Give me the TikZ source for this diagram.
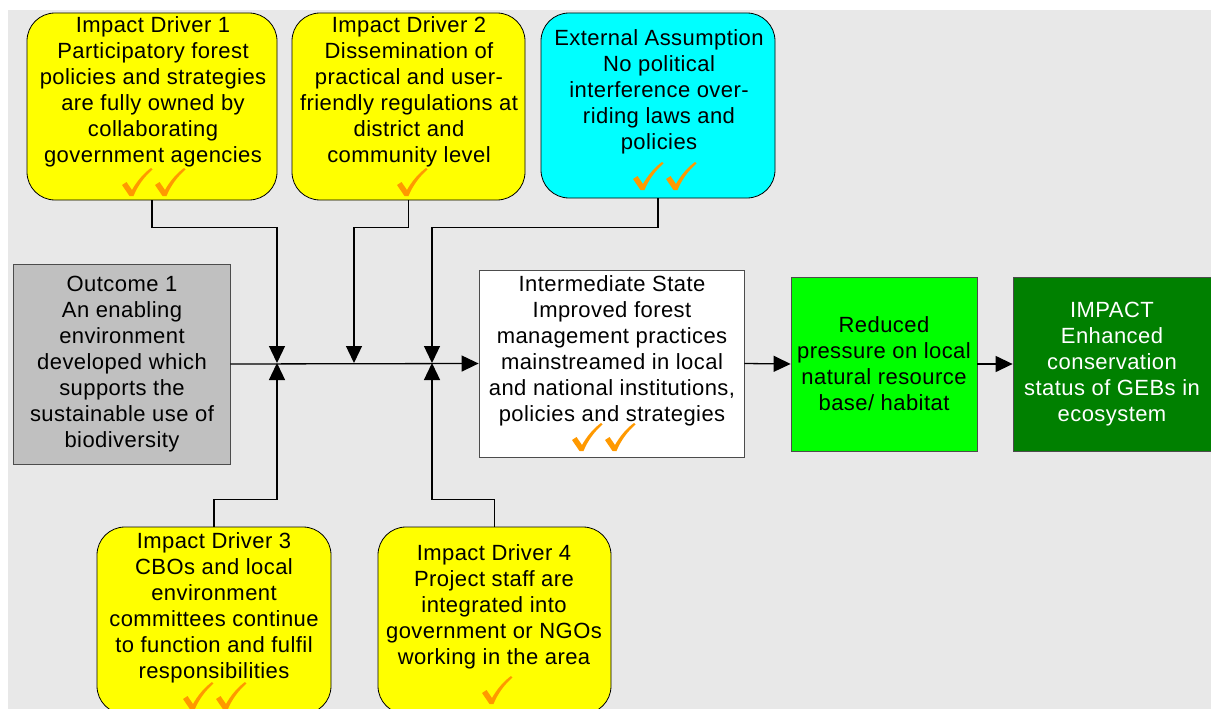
\documentclass[tikz,border=0pt]{standalone}
\usepackage{fontspec}
\setmainfont{Liberation Sans}[LetterSpace=2]
\usetikzlibrary{arrows.meta}

\definecolor{bggray}{HTML}{E8E8E8}
\definecolor{drvyellow}{HTML}{FFFF00}
\definecolor{asmcyan}{HTML}{00FFFF}
\definecolor{outgray}{HTML}{C0C0C0}
\definecolor{redgreen}{HTML}{00FF00}
\definecolor{impgreen}{HTML}{008000}
\definecolor{tickorange}{HTML}{FF9900}

\begin{document}
\begin{tikzpicture}[x=1pt,y=-1pt,
  roundbox/.style={draw=black, line width=0.8pt, rounded corners=28pt, inner sep=0pt},
  squarebox/.style={draw=black!70, line width=0.8pt, inner sep=0pt},
  txt/.style={align=center, font=\fontsize{22}{26}\selectfont, inner sep=0pt},
  conn/.style={line width=1.3pt},
  arr/.style={conn, -{Triangle[length=17pt,width=16pt]}},
  tickmark/.pic={
    \fill[tickorange] (-15,3) -- (-10.5,0) -- (-5,8)
      .. controls (0,-1) and (7,-9) .. (14,-14) -- (15.5,-12.5)
      .. controls (8,-6) and (1,3) .. (-3.5,14) -- (-7.5,14) -- cycle;
  }]
\useasboundingbox (0,0) rectangle (1211,709);
\clip (0,0) rectangle (1211,709);
\fill[bggray] (8,10) rectangle (1211,709);

% boxes
\node[roundbox, fill=drvyellow, minimum width=250pt, minimum height=187pt] (id1) at (152,106.5) {};
\node[roundbox, fill=drvyellow, minimum width=233pt, minimum height=187pt] (id2) at (408.5,106.5) {};
\node[roundbox, fill=asmcyan, minimum width=234pt, minimum height=185pt] (ext) at (658,105.5) {};
\node[squarebox, fill=outgray, minimum width=217pt, minimum height=200pt] (out) at (121.5,364) {};
\node[squarebox, fill=white, minimum width=265pt, minimum height=187pt] (inter) at (611.5,363.5) {};
\node[squarebox, fill=redgreen, minimum width=186pt, minimum height=174pt] (red) at (884,364) {};
\node[squarebox, fill=impgreen, minimum width=204pt, minimum height=174pt] (imp) at (1115,364) {};
\node[roundbox, fill=drvyellow, minimum width=234pt, minimum height=187pt] (id3) at (214,620.5) {};
\node[roundbox, fill=drvyellow, minimum width=233pt, minimum height=187pt] (id4) at (494.5,620.5) {};

% texts
\node[txt] (t1) at (153,92) {Impact Driver 1\\Participatory forest\\policies and strategies\\are fully owned by\\collaborating\\government agencies};
\node[txt] (t2) at (409,92) {Impact Driver 2\\Dissemination of\\practical and user-\\friendly regulations at\\district and\\community level};
\node[txt] (t3) at (659,92) {External Assumption\\No political\\interference over-\\riding laws and\\policies};
\node[txt] (t4) at (122,364) {Outcome 1\\An enabling\\environment\\developed which\\supports the\\sustainable use of\\biodiversity};
\node[txt] (t5) at (612,351) {Intermediate State\\Improved forest\\management practices\\mainstreamed in local\\and national institutions,\\policies and strategies};
\node[txt] (t6) at (884,364) {Reduced\\pressure on local\\natural resource\\base/ habitat};
\node[txt, text=white] (t7) at (1112,364) {IMPACT\\Enhanced\\conservation\\status of GEBs in\\ecosystem};
\node[txt] (t8) at (214,608) {Impact Driver 3\\CBOs and local\\environment\\committees continue\\to function and fulfil\\responsibilities};
\node[txt] (t9) at (494,607) {Impact Driver 4\\Project staff are\\integrated into\\government or NGOs\\working in the area};

% tick marks
\pic at (137,182) {tickmark};
\pic at (170,182) {tickmark};
\pic at (412,182) {tickmark};
\pic at (648,176) {tickmark};
\pic at (681,176) {tickmark};
\pic at (587,437) {tickmark};
\pic at (620,437) {tickmark};
\pic at (198,696) {tickmark};
\pic at (231,696) {tickmark};
\pic at (497,690) {tickmark};

% junction points on the main line
\coordinate (j1) at (277,363);
\coordinate (j2) at (354,363);
\coordinate (j3) at (432,363);

% connectors
\draw[arr] (id1.south) -- ++(0,27) -| (j1);
\draw[arr] (id2.south) -- ++(0,27) -| (j2);
\draw[arr] (ext.south) -- ++(0,29) -| (j3);
\draw[arr] (id3.north) -- ++(0,-27) -| (j1);
\draw[arr] (id4.north) -- ++(0,-27) -| (j3);
\draw[arr] (out.east) -- (inter.west);
\draw[arr] (inter.east) -- (red.west);
\draw[arr] (red.east) -- (imp.west);
\end{tikzpicture}
\end{document}
